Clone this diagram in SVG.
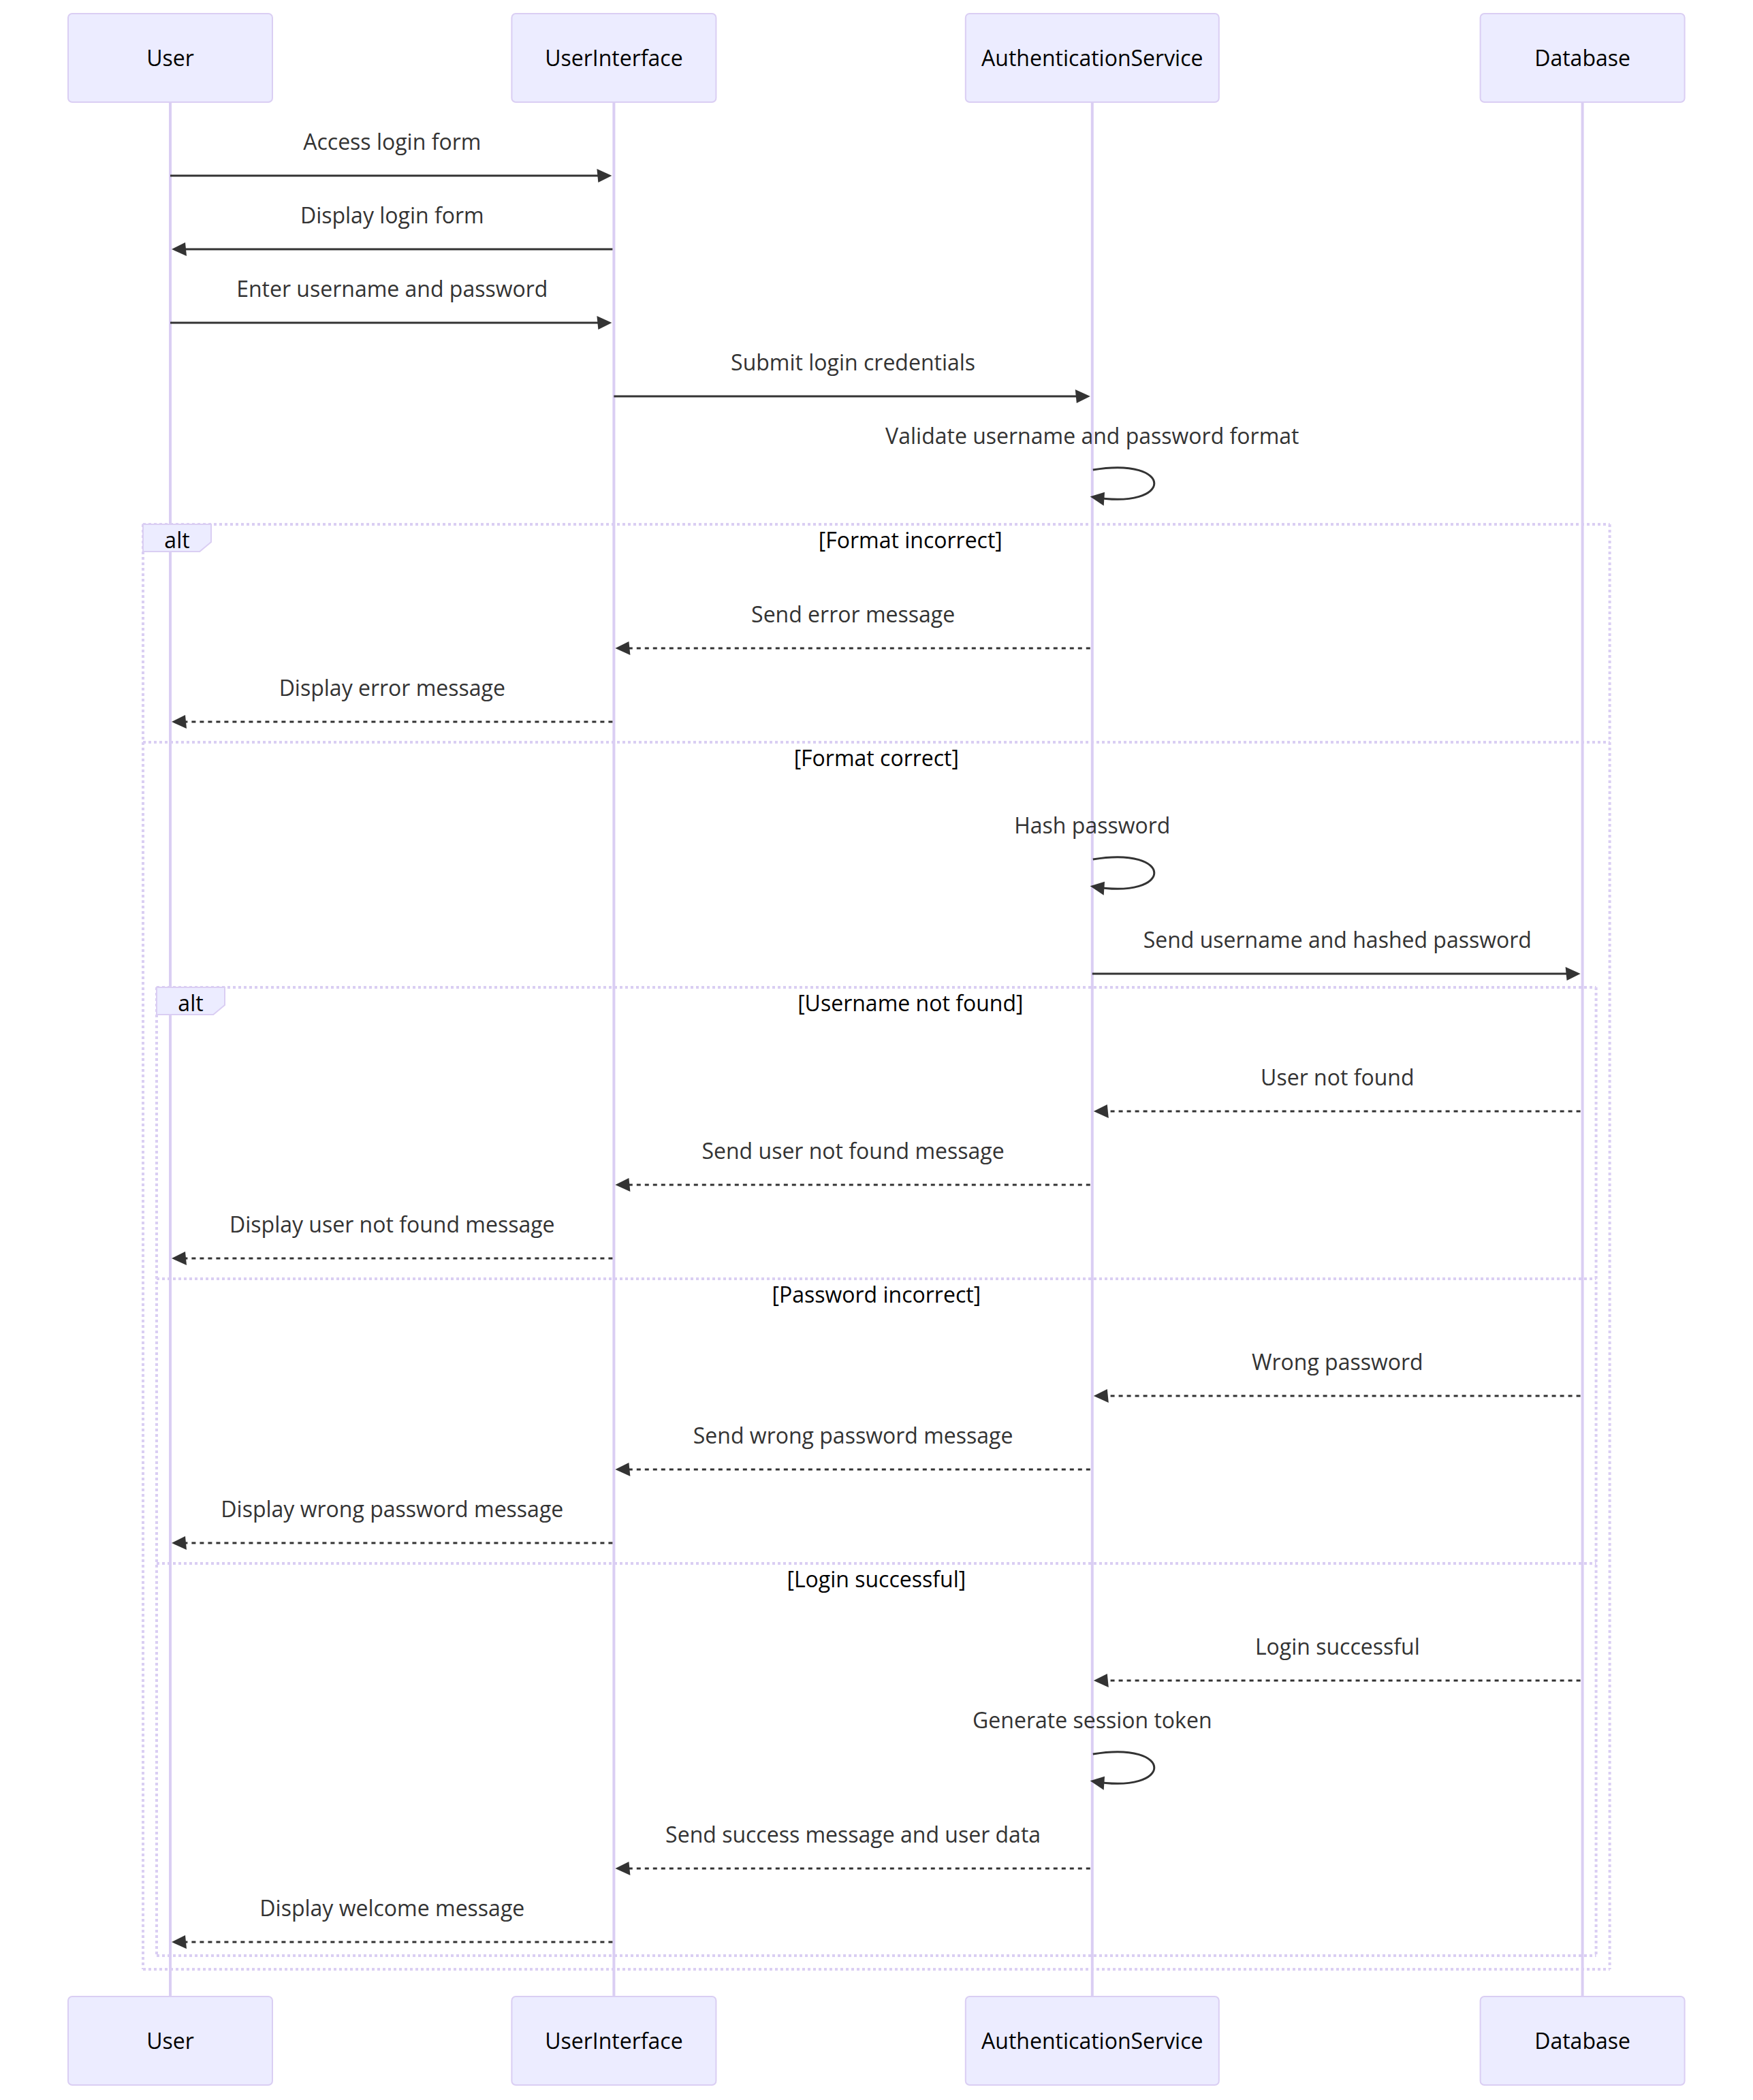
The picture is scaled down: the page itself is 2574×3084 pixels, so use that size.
<svg xmlns="http://www.w3.org/2000/svg" width="2574" height="3084" viewBox="0 0 2574 3084">
<style>
.actor-box{fill:#ECECFF;stroke:#DACEF3;stroke-width:1}
.actor-text{font-family:"Open Sans","Liberation Sans",sans-serif;font-size:16px;fill:#000;text-anchor:middle}
.lifeline{stroke:#DACEF3;stroke-width:2}
.msg{stroke:#333;stroke-width:1.5;fill:none}
.dotted{stroke-dasharray:3,3}
.msg-text{font-family:"Open Sans","Liberation Sans",sans-serif;font-size:16px;fill:#333;text-anchor:middle}
.loop-line{stroke:#DACEF3;stroke-width:2;stroke-dasharray:2,2;fill:none}
.label-box{fill:#ECECFF;stroke:#DACEF3;stroke-width:1}
.loop-text{font-family:"Open Sans","Liberation Sans",sans-serif;font-size:16px;fill:#000;text-anchor:middle}
</style>
<defs>
<marker id="arrowhead" refX="7.9" refY="5" markerUnits="userSpaceOnUse" markerWidth="12" markerHeight="12" orient="auto" overflow="visible">
<path d="M -1 0 L 10 5 L 0 10 z" fill="#333"/>
</marker>
</defs>
<rect x="0" y="0" width="2574" height="3084" fill="#ffffff"/>
<g transform="translate(100,20) scale(2)">
<g id="lifelines">
<line class="lifeline" x1="75" y1="65" x2="75" y2="1456"/>
<line class="lifeline" x1="400.7" y1="65" x2="400.7" y2="1456"/>
<line class="lifeline" x1="751.9" y1="65" x2="751.9" y2="1456"/>
<line class="lifeline" x1="1111.8" y1="65" x2="1111.8" y2="1456"/>
</g>
<g id="actor-User-top"><rect class="actor-box" x="0" y="0" width="150" height="65" rx="3" ry="3"/><text class="actor-text" x="75" y="38.6">User</text></g>
<g id="actor-UserInterface-top"><rect class="actor-box" x="325.7" y="0" width="150" height="65" rx="3" ry="3"/><text class="actor-text" x="400.7" y="38.6">UserInterface</text></g>
<g id="actor-AuthenticationService-top"><rect class="actor-box" x="658.9" y="0" width="186" height="65" rx="3" ry="3"/><text class="actor-text" x="751.9" y="38.6">AuthenticationService</text></g>
<g id="actor-Database-top"><rect class="actor-box" x="1036.8" y="0" width="150" height="65" rx="3" ry="3"/><text class="actor-text" x="1111.8" y="38.6">Database</text></g>
<g id="actor-User-bottom"><rect class="actor-box" x="0" y="1456" width="150" height="65" rx="3" ry="3"/><text class="actor-text" x="75" y="1494.6">User</text></g>
<g id="actor-UserInterface-bottom"><rect class="actor-box" x="325.7" y="1456" width="150" height="65" rx="3" ry="3"/><text class="actor-text" x="400.7" y="1494.6">UserInterface</text></g>
<g id="actor-AuthenticationService-bottom"><rect class="actor-box" x="658.9" y="1456" width="186" height="65" rx="3" ry="3"/><text class="actor-text" x="751.9" y="1494.6">AuthenticationService</text></g>
<g id="actor-Database-bottom"><rect class="actor-box" x="1036.8" y="1456" width="150" height="65" rx="3" ry="3"/><text class="actor-text" x="1111.8" y="1494.6">Database</text></g>
<g id="alt-outer">
<line class="loop-line" x1="55" y1="375" x2="1131.8" y2="375"/>
<line class="loop-line" x1="1131.8" y1="375" x2="1131.8" y2="1436"/>
<line class="loop-line" x1="55" y1="1436" x2="1131.8" y2="1436"/>
<line class="loop-line" x1="55" y1="375" x2="55" y2="1436"/>
<line class="loop-line" x1="55" y1="535" x2="1131.8" y2="535"/>
<polygon class="label-box" points="55,375 105,375 105,388 96.6,395 55,395"/>
<text class="loop-text" x="80" y="392.3">alt</text>
<text class="loop-text" x="618.4" y="392.3">[Format incorrect]</text>
<text class="loop-text" x="593.4" y="552.3">[Format correct]</text>
</g>
<g id="alt-inner">
<line class="loop-line" x1="65" y1="715" x2="1121.8" y2="715"/>
<line class="loop-line" x1="1121.8" y1="715" x2="1121.8" y2="1426"/>
<line class="loop-line" x1="65" y1="1426" x2="1121.8" y2="1426"/>
<line class="loop-line" x1="65" y1="715" x2="65" y2="1426"/>
<line class="loop-line" x1="65" y1="929" x2="1121.8" y2="929"/>
<line class="loop-line" x1="65" y1="1138" x2="1121.8" y2="1138"/>
<polygon class="label-box" points="65,715 115,715 115,728 106.6,735 65,735"/>
<text class="loop-text" x="90" y="732.3">alt</text>
<text class="loop-text" x="618.4" y="732.3">[Username not found]</text>
<text class="loop-text" x="593.4" y="946.3">[Password incorrect]</text>
<text class="loop-text" x="593.4" y="1155.3">[Login successful]</text>
</g>
<g id="connectors">
<text class="msg-text" x="237.9" y="100.2">Access login form</text>
<line class="msg" x1="75" y1="119" x2="397.1" y2="119" marker-end="url(#arrowhead)"/>
<text class="msg-text" x="237.9" y="154.2">Display login form</text>
<line class="msg" x1="399.7" y1="173" x2="78.1" y2="173" marker-end="url(#arrowhead)"/>
<text class="msg-text" x="237.9" y="208.2">Enter username and password</text>
<line class="msg" x1="75" y1="227" x2="397.1" y2="227" marker-end="url(#arrowhead)"/>
<text class="msg-text" x="576.3" y="262.2">Submit login credentials</text>
<line class="msg" x1="400.7" y1="281" x2="748.3" y2="281" marker-end="url(#arrowhead)"/>
<text class="msg-text" x="751.9" y="316.2">Validate username and password format</text>
<path class="msg" d="M 752.4,335 C 812.4,325 812.4,365 752.4,355" marker-end="url(#arrowhead)"/>
<text class="msg-text" x="576.3" y="447.2">Send error message</text>
<line class="msg dotted" x1="750.4" y1="466" x2="403.8" y2="466" marker-end="url(#arrowhead)"/>
<text class="msg-text" x="237.9" y="501.2">Display error message</text>
<line class="msg dotted" x1="399.7" y1="520" x2="78.1" y2="520" marker-end="url(#arrowhead)"/>
<text class="msg-text" x="751.9" y="602.2">Hash password</text>
<path class="msg" d="M 752.4,621 C 812.4,611 812.4,651 752.4,641" marker-end="url(#arrowhead)"/>
<text class="msg-text" x="931.9" y="686.2">Send username and hashed password</text>
<line class="msg" x1="751.9" y1="705" x2="1108.2" y2="705" marker-end="url(#arrowhead)"/>
<text class="msg-text" x="931.9" y="787.2">User not found</text>
<line class="msg dotted" x1="1110.3" y1="806" x2="755" y2="806" marker-end="url(#arrowhead)"/>
<text class="msg-text" x="576.3" y="841.2">Send user not found message</text>
<line class="msg dotted" x1="750.4" y1="860" x2="403.8" y2="860" marker-end="url(#arrowhead)"/>
<text class="msg-text" x="237.9" y="895.2">Display user not found message</text>
<line class="msg dotted" x1="399.7" y1="914" x2="78.1" y2="914" marker-end="url(#arrowhead)"/>
<text class="msg-text" x="931.9" y="996.2">Wrong password</text>
<line class="msg dotted" x1="1110.3" y1="1015" x2="755" y2="1015" marker-end="url(#arrowhead)"/>
<text class="msg-text" x="576.3" y="1050.2">Send wrong password message</text>
<line class="msg dotted" x1="750.4" y1="1069" x2="403.8" y2="1069" marker-end="url(#arrowhead)"/>
<text class="msg-text" x="237.9" y="1104.2">Display wrong password message</text>
<line class="msg dotted" x1="399.7" y1="1123" x2="78.1" y2="1123" marker-end="url(#arrowhead)"/>
<text class="msg-text" x="931.9" y="1205.2">Login successful</text>
<line class="msg dotted" x1="1110.3" y1="1224" x2="755" y2="1224" marker-end="url(#arrowhead)"/>
<text class="msg-text" x="751.9" y="1259.2">Generate session token</text>
<path class="msg" d="M 752.4,1278 C 812.4,1268 812.4,1308 752.4,1298" marker-end="url(#arrowhead)"/>
<text class="msg-text" x="576.3" y="1343.2">Send success message and user data</text>
<line class="msg dotted" x1="750.4" y1="1362" x2="403.8" y2="1362" marker-end="url(#arrowhead)"/>
<text class="msg-text" x="237.9" y="1397.2">Display welcome message</text>
<line class="msg dotted" x1="399.7" y1="1416" x2="78.1" y2="1416" marker-end="url(#arrowhead)"/>
</g>
</g>
</svg>
